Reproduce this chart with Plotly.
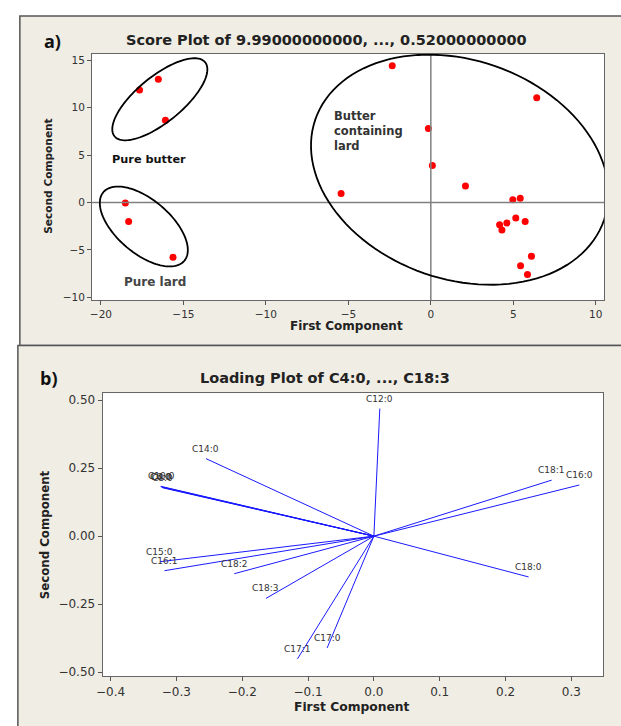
import numpy as np
import plotly.graph_objects as go

W, H = 621, 726

# ---------------- Data ----------------
score_pc1 = [-17.66, -16.52, -16.09,
             -18.52, -18.32, -15.63,
             -5.44, -2.34, 6.42, -0.15, 0.09, 2.10, 4.97, 5.42, 5.15, 5.72,
             4.17, 4.61, 4.31, 6.10, 5.44, 5.86]
score_pc2 = [11.87, 13.00, 8.68,
             -0.07, -2.00, -5.78,
             0.94, 14.42, 11.03, 7.80, 3.89, 1.74, 0.27, 0.45, -1.65, -2.00,
             -2.35, -2.17, -2.91, -5.67, -6.69, -7.60]

load_names = ["C4:0", "C6:0", "C8:0", "C10:0", "C12:0", "C14:0", "C15:0", "C16:0",
              "C16:1", "C17:0", "C17:1", "C18:0", "C18:1", "C18:2", "C18:3"]
load_pc1 = [-0.322, -0.324, -0.321, -0.323, 0.009, -0.255, -0.325, 0.312,
            -0.318, -0.071, -0.116, 0.235, 0.270, -0.212, -0.164]
load_pc2 = [0.180, 0.182, 0.178, 0.183, 0.469, 0.285, -0.094, 0.188,
            -0.127, -0.411, -0.451, -0.150, 0.206, -0.138, -0.229]

score_xticks = [-20, -15, -10, -5, 0, 5, 10]
score_yticks = [-10, -5, 0, 5, 10, 15]
load_xticks = [-0.4, -0.3, -0.2, -0.1, 0.0, 0.1, 0.2, 0.3]
load_yticks = [-0.50, -0.25, 0.00, 0.25, 0.50]

# group ellipses: (center x, center y, semi-major px, semi-minor px, angle deg)
ellipses = [(-16.43, 10.88, 59, 23, 39),
            (-17.40, -2.54, 53.5, 27, -40),
            (1.75, 3.45, 154.5, 110, -19)]

# ---------------- Layout helpers ----------------
def px(x):
    return x / W

def py(y):
    return 1 - y / H

# plot areas in pixels
A_L, A_R, A_T, A_B = 86, 604, 54, 301.7
B_L, B_R, B_T, B_B = 96.7, 603, 395, 679.3
A_xr = [-20.54, 10.51]
A_yr = [-10.34, 15.68]
B_xr = [-0.412, 0.3483]
B_yr = [-0.516, 0.525]

ax_px_per_x = (A_R - A_L) / (A_xr[1] - A_xr[0])
ax_px_per_y = (A_B - A_T) / (A_yr[1] - A_yr[0])

BEIGE = "#F0EDE4"
FONT = "DejaVu Sans"

fig = go.Figure()

# score points
fig.add_trace(go.Scatter(x=score_pc1, y=score_pc2, mode="markers",
                         marker=dict(color="#FF0000", size=7),
                         xaxis="x", yaxis="y", showlegend=False, hoverinfo="skip"))

# reference lines at zero (score plot)
fig.add_trace(go.Scatter(x=[A_xr[0], A_xr[1], None, 0, 0],
                         y=[0, 0, None, A_yr[0], A_yr[1]],
                         mode="lines", line=dict(color="#808080", width=1.5),
                         xaxis="x", yaxis="y", showlegend=False, hoverinfo="skip"))

# loading vectors
lx, ly = [], []
for a, b in zip(load_pc1, load_pc2):
    lx += [0, a, None]
    ly += [0, b, None]
fig.add_trace(go.Scatter(x=lx, y=ly, mode="lines",
                         line=dict(color="#1a1aff", width=1),
                         xaxis="x2", yaxis="y2", showlegend=False, hoverinfo="skip"))

shapes = []
# panel backgrounds
shapes.append(dict(type="rect", xref="paper", yref="paper", layer="below",
                   x0=px(13), x1=px(640), y0=py(347), y1=py(16),
                   fillcolor=BEIGE, line=dict(color="#555555", width=1.5)))
shapes.append(dict(type="rect", xref="paper", yref="paper", layer="below",
                   x0=px(11), x1=px(640), y0=py(740), y1=py(347),
                   fillcolor=BEIGE, line=dict(color="#555555", width=1.5)))
# white plot areas
shapes.append(dict(type="rect", xref="paper", yref="paper", layer="below",
                   x0=px(A_L), x1=px(A_R), y0=py(A_B), y1=py(A_T),
                   fillcolor="white", line=dict(width=0)))
shapes.append(dict(type="rect", xref="paper", yref="paper", layer="below",
                   x0=px(B_L), x1=px(B_R), y0=py(B_B), y1=py(B_T),
                   fillcolor="white", line=dict(width=0)))

# ellipses
t = np.linspace(0, 2 * np.pi, 121)
for cx, cy, a, b, ang in ellipses:
    th = np.deg2rad(ang)
    sx = a * np.cos(t) * np.cos(th) - b * np.sin(t) * np.sin(th)
    sy = a * np.cos(t) * np.sin(th) + b * np.sin(t) * np.cos(th)
    ex = cx + sx / ax_px_per_x
    ey = cy + sy / ax_px_per_y
    path = "M " + " L ".join(f"{x:.4f},{y:.4f}" for x, y in zip(ex, ey)) + " Z"
    shapes.append(dict(type="path", xref="x", yref="y", path=path,
                       line=dict(color="black", width=1.8)))

annotations = []
# loading labels
for n, a, b in zip(load_names, load_pc1, load_pc2):
    annotations.append(dict(x=a, y=b, xref="x2", yref="y2", text=n, showarrow=False,
                            yshift=10, xanchor="center", yanchor="middle",
                            font=dict(family=FONT, size=9, color="#333333")))

def txt(x, y, s, size, bold=True, color="#111111", angle=0, xanchor="center", family=FONT):
    annotations.append(dict(x=px(x), y=py(y), xref="paper", yref="paper",
                            text=f"<b>{s}</b>" if bold else s, showarrow=False,
                            xanchor=xanchor, yanchor="middle", textangle=angle,
                            font=dict(family=family, size=size, color=color)))

txt(46, 41, "a)", 18, family="Open Sans")
txt(323, 40, "Score Plot of 9.99000000000, ..., 0.52000000000", 14.5, color="#222222")
txt(42, 380, "b)", 18, family="Open Sans")
txt(322, 380, "Loading Plot of C4:0, ..., C18:3", 14.5, color="#222222")
txt(343, 327, "First Component", 12, color="#222222")
txt(42, 177, "Second Component", 10.6, angle=-90, color="#222222")
txt(349, 710, "First Component", 12.3, color="#222222")
txt(38, 537, "Second Component", 11.8, angle=-90, color="#222222")

# group labels
txt(144, 160, "Pure butter", 11.3, color="#111111")
txt(150, 283, "Pure lard", 12, color="#444444")
for i, line in enumerate(["Butter", "containing", "lard"]):
    txt(329, 116 + 15.3 * i, line, 11.5, color="#333333", xanchor="left")

axis_common = dict(showline=True, mirror=True, linecolor="#666666", linewidth=1,
                   ticks="outside", ticklen=4, tickcolor="#555555", showgrid=False,
                   zeroline=False, fixedrange=True)

fig.update_layout(
    width=W, height=H, margin=dict(l=0, r=0, t=0, b=0),
    paper_bgcolor="white", plot_bgcolor="rgba(0,0,0,0)",
    shapes=shapes, annotations=annotations,
    xaxis=dict(domain=[px(A_L), px(A_R)], range=A_xr, anchor="y",
               tickvals=score_xticks, tickfont=dict(family=FONT, size=10.5, color="#333333"),
               **axis_common),
    yaxis=dict(domain=[py(A_B), py(A_T)], range=A_yr, anchor="x",
               tickvals=score_yticks, tickfont=dict(family=FONT, size=10.5, color="#333333"),
               **axis_common),
    xaxis2=dict(domain=[px(B_L), px(B_R)], range=B_xr, anchor="y2",
                tickvals=load_xticks, tickformat=".1f",
                tickfont=dict(family=FONT, size=12, color="#333333"), **axis_common),
    yaxis2=dict(domain=[py(B_B), py(B_T)], range=B_yr, anchor="x2",
                tickvals=load_yticks, tickformat=".2f",
                tickfont=dict(family=FONT, size=12, color="#333333"), **axis_common),
)

fig.write_html("out.html", config={"displayModeBar": False},
               post_script="document.body.style.margin='0';document.body.style.overflow='hidden';")
